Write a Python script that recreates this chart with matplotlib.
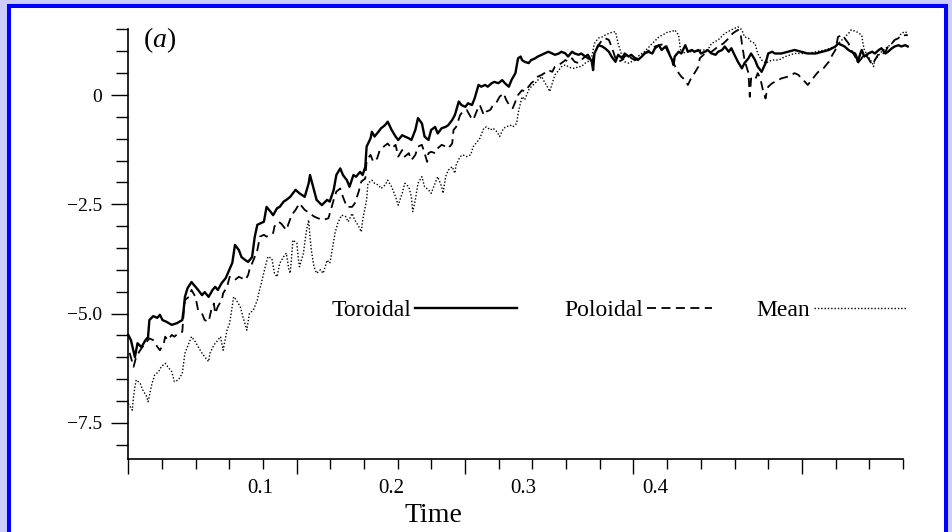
import numpy as np
import matplotlib
matplotlib.use("Agg")
import matplotlib.pyplot as plt
from matplotlib.patches import Rectangle

plt.rcParams['font.family'] = ['Liberation Serif', 'DejaVu Serif']
plt.rcParams['mathtext.fontset'] = 'custom'
plt.rcParams['mathtext.rm'] = 'Liberation Serif'
plt.rcParams['mathtext.it'] = 'Liberation Serif:italic'

# (time, value) readings
toroidal = [
    (0.000, -5.49), (0.002, -5.61), (0.005, -6.00), (0.007, -5.68), (0.010, -5.77), (0.013, -5.61),
    (0.015, -5.54), (0.016, -5.15), (0.019, -5.06), (0.022, -5.10), (0.024, -5.03), (0.026, -5.15),
    (0.029, -5.19), (0.033, -5.26), (0.037, -5.22), (0.041, -5.15), (0.042, -4.92), (0.043, -4.62),
    (0.045, -4.42), (0.048, -4.28), (0.051, -4.39), (0.053, -4.46), (0.056, -4.58), (0.058, -4.51),
    (0.061, -4.62), (0.064, -4.46), (0.066, -4.39), (0.068, -4.46), (0.071, -4.30), (0.074, -4.19),
    (0.076, -4.05), (0.079, -3.84), (0.081, -3.43), (0.084, -3.55), (0.086, -3.71), (0.089, -3.78),
    (0.091, -3.82), (0.094, -3.71), (0.096, -3.25), (0.098, -2.97), (0.103, -2.90), (0.105, -2.56),
    (0.108, -2.67), (0.110, -2.75), (0.113, -2.59), (0.115, -2.56), (0.118, -2.44), (0.120, -2.40),
    (0.123, -2.33), (0.127, -2.17), (0.130, -2.25), (0.134, -2.33), (0.137, -2.02), (0.138, -1.83),
    (0.141, -2.17), (0.143, -2.40), (0.147, -2.52), (0.151, -2.40), (0.153, -2.44), (0.156, -2.17),
    (0.158, -1.83), (0.161, -1.68), (0.163, -1.83), (0.166, -1.95), (0.168, -2.10), (0.171, -1.83),
    (0.173, -1.87), (0.176, -1.76), (0.178, -1.83), (0.180, -1.64), (0.181, -1.18), (0.184, -0.99),
    (0.185, -0.84), (0.187, -0.95), (0.190, -0.84), (0.192, -0.76), (0.195, -0.69), (0.197, -0.61),
    (0.200, -0.80), (0.203, -0.95), (0.205, -1.03), (0.208, -0.92), (0.210, -0.95), (0.213, -0.99),
    (0.215, -1.03), (0.218, -0.80), (0.220, -0.53), (0.223, -0.65), (0.225, -0.95), (0.228, -1.03),
    (0.230, -0.80), (0.233, -0.73), (0.235, -0.88), (0.238, -0.76), (0.241, -0.73), (0.243, -0.69),
    (0.246, -0.57), (0.248, -0.46), (0.251, -0.15), (0.253, -0.23), (0.256, -0.27), (0.258, -0.19),
    (0.261, -0.23), (0.263, -0.08), (0.266, 0.23), (0.268, 0.19), (0.271, 0.23), (0.273, 0.19),
    (0.276, 0.27), (0.278, 0.30), (0.281, 0.27), (0.284, 0.34), (0.286, 0.27), (0.289, 0.19),
    (0.291, 0.34), (0.294, 0.50), (0.296, 0.84), (0.298, 0.88), (0.299, 0.80), (0.301, 0.76),
    (0.304, 0.73), (0.306, 0.80), (0.309, 0.84), (0.311, 0.88), (0.314, 0.92), (0.316, 0.95),
    (0.319, 0.99), (0.322, 0.95), (0.324, 0.92), (0.327, 0.95), (0.329, 0.99), (0.332, 0.95),
    (0.334, 0.88), (0.337, 0.99), (0.339, 0.95), (0.342, 0.92), (0.344, 0.95), (0.347, 0.88),
    (0.349, 0.92), (0.352, 0.76), (0.353, 0.57), (0.354, 0.95), (0.357, 1.14), (0.360, 1.11),
    (0.362, 1.07), (0.365, 0.99), (0.367, 0.88), (0.370, 0.76), (0.372, 0.92), (0.375, 0.84),
    (0.377, 0.95), (0.380, 0.88), (0.382, 0.92), (0.385, 0.84), (0.387, 0.80), (0.390, 0.88),
    (0.392, 0.95), (0.395, 0.99), (0.398, 0.95), (0.400, 1.07), (0.403, 1.14), (0.405, 1.03),
    (0.408, 1.11), (0.410, 0.99), (0.413, 0.80), (0.414, 0.69), (0.415, 0.88), (0.418, 0.99),
    (0.420, 0.95), (0.423, 1.14), (0.425, 0.99), (0.428, 1.03), (0.430, 0.99), (0.433, 1.03),
    (0.435, 0.95), (0.438, 0.99), (0.440, 1.03), (0.443, 0.95), (0.446, 0.92), (0.448, 0.99),
    (0.451, 1.03), (0.453, 1.11), (0.456, 0.99), (0.458, 1.07), (0.461, 0.88), (0.463, 0.76),
    (0.466, 0.61), (0.468, 0.73), (0.471, 0.84), (0.473, 0.95), (0.476, 0.80), (0.478, 0.65),
    (0.481, 0.53), (0.484, 0.73), (0.486, 0.95), (0.489, 0.99), (0.491, 0.95), (0.496, 0.95),
    (0.501, 0.99), (0.506, 1.03), (0.511, 0.99), (0.516, 0.95), (0.522, 0.95), (0.527, 0.99),
    (0.532, 1.03), (0.537, 1.11), (0.539, 1.18), (0.542, 1.14), (0.544, 1.11), (0.547, 1.03),
    (0.549, 0.99), (0.552, 0.95), (0.553, 0.88), (0.554, 0.76), (0.556, 0.95), (0.557, 1.03),
    (0.559, 0.88), (0.562, 0.95), (0.565, 0.99), (0.567, 0.95), (0.570, 1.03), (0.572, 1.07),
    (0.575, 0.95), (0.577, 0.99), (0.580, 1.07), (0.582, 1.11), (0.585, 1.14), (0.587, 1.11),
    (0.590, 1.14), (0.592, 1.11),
]

poloidal = [
    (0.001, -5.90), (0.004, -6.22), (0.006, -5.99), (0.009, -5.84), (0.011, -5.76), (0.016, -5.57),
    (0.019, -5.61), (0.022, -5.76), (0.024, -5.84), (0.027, -5.68), (0.028, -5.53), (0.030, -5.61),
    (0.033, -5.49), (0.035, -5.53), (0.038, -5.45), (0.041, -5.42), (0.042, -5.00), (0.043, -4.69),
    (0.046, -4.62), (0.048, -4.46), (0.051, -4.62), (0.052, -4.77), (0.053, -4.92), (0.056, -5.00),
    (0.058, -5.15), (0.061, -5.19), (0.063, -4.92), (0.065, -4.77), (0.066, -5.00), (0.068, -4.84),
    (0.071, -4.69), (0.072, -4.54), (0.075, -4.39), (0.077, -4.16), (0.079, -4.19), (0.081, -4.23),
    (0.084, -4.16), (0.086, -4.19), (0.089, -4.23), (0.091, -4.12), (0.092, -4.00), (0.095, -3.78),
    (0.098, -3.55), (0.100, -3.24), (0.103, -3.20), (0.105, -3.24), (0.108, -3.20), (0.110, -3.16),
    (0.111, -3.01), (0.114, -2.90), (0.116, -2.94), (0.119, -3.05), (0.120, -3.09), (0.124, -2.75),
    (0.127, -2.63), (0.130, -2.48), (0.134, -2.63), (0.138, -2.71), (0.141, -2.78), (0.144, -2.82),
    (0.148, -2.86), (0.152, -2.82), (0.156, -2.40), (0.158, -2.21), (0.161, -2.14), (0.163, -2.33),
    (0.166, -2.56), (0.170, -2.56), (0.172, -2.48), (0.175, -2.21), (0.177, -1.98), (0.180, -1.91),
    (0.181, -1.49), (0.184, -1.37), (0.186, -1.53), (0.189, -1.45), (0.191, -1.26), (0.194, -1.18),
    (0.197, -1.11), (0.200, -1.22), (0.203, -1.14), (0.205, -1.41), (0.208, -1.26), (0.210, -1.41),
    (0.213, -1.33), (0.215, -1.49), (0.218, -1.37), (0.220, -1.18), (0.223, -1.14), (0.225, -1.33),
    (0.227, -1.53), (0.228, -1.33), (0.230, -1.30), (0.233, -1.33), (0.235, -1.22), (0.238, -1.14),
    (0.241, -1.18), (0.243, -1.22), (0.246, -1.11), (0.247, -0.80), (0.249, -0.73), (0.252, -0.46),
    (0.254, -0.38), (0.257, -0.34), (0.260, -0.50), (0.262, -0.57), (0.265, -0.34), (0.267, -0.23),
    (0.270, -0.46), (0.272, -0.38), (0.275, -0.34), (0.277, -0.23), (0.280, -0.15), (0.282, -0.04),
    (0.285, 0.04), (0.287, -0.11), (0.290, -0.27), (0.292, -0.30), (0.295, -0.08), (0.296, 0.00),
    (0.299, 0.11), (0.301, 0.08), (0.304, 0.19), (0.306, 0.27), (0.309, 0.34), (0.311, 0.42),
    (0.314, 0.46), (0.316, 0.50), (0.319, 0.57), (0.322, 0.53), (0.324, 0.65), (0.327, 0.69),
    (0.329, 0.73), (0.332, 0.80), (0.334, 0.76), (0.337, 0.84), (0.339, 0.76), (0.342, 0.73),
    (0.344, 0.80), (0.347, 0.88), (0.349, 0.84), (0.352, 0.73), (0.354, 0.95), (0.357, 1.14),
    (0.360, 1.26), (0.362, 1.30), (0.365, 1.26), (0.367, 1.11), (0.370, 0.84), (0.372, 0.76),
    (0.375, 0.80), (0.377, 0.88), (0.380, 0.92), (0.382, 0.84), (0.385, 0.80), (0.387, 0.84),
    (0.390, 0.88), (0.392, 0.95), (0.400, 1.11), (0.408, 1.18), (0.411, 0.95), (0.414, 0.73),
    (0.418, 0.50), (0.420, 0.42), (0.423, 0.34), (0.425, 0.23), (0.428, 0.42), (0.430, 0.50),
    (0.433, 0.65), (0.434, 0.84), (0.438, 0.95), (0.443, 0.99), (0.448, 1.11), (0.452, 1.18),
    (0.456, 1.30), (0.459, 1.41), (0.463, 1.49), (0.465, 1.41), (0.466, 1.18), (0.468, 0.80),
    (0.471, 0.50), (0.472, -0.04), (0.473, 0.38), (0.476, 0.34), (0.478, 0.50), (0.480, 0.38),
    (0.482, 0.11), (0.484, -0.08), (0.485, 0.11), (0.486, 0.19), (0.489, 0.27), (0.491, 0.30),
    (0.496, 0.38), (0.501, 0.42), (0.506, 0.50), (0.509, 0.46), (0.511, 0.38), (0.514, 0.30),
    (0.516, 0.23), (0.519, 0.34), (0.522, 0.46), (0.524, 0.53), (0.527, 0.57), (0.529, 0.65),
    (0.532, 0.76), (0.534, 0.88), (0.537, 1.03), (0.539, 1.33), (0.542, 1.37), (0.544, 1.30),
    (0.547, 1.18), (0.549, 1.03), (0.552, 0.88), (0.554, 0.73), (0.557, 0.84), (0.559, 0.95),
    (0.562, 0.84), (0.565, 0.69), (0.567, 0.80), (0.570, 0.95), (0.572, 0.92), (0.575, 0.99),
    (0.577, 1.11), (0.580, 1.18), (0.582, 1.26), (0.585, 1.30), (0.587, 1.33), (0.590, 1.37),
    (0.592, 1.37),
]

mean = [
    (0.000, -7.06), (0.003, -7.21), (0.004, -6.90), (0.005, -6.68), (0.006, -6.52), (0.009, -6.60),
    (0.011, -6.75), (0.014, -6.90), (0.015, -7.02), (0.018, -6.60), (0.020, -6.41), (0.023, -6.33),
    (0.025, -6.22), (0.028, -6.14), (0.030, -6.22), (0.033, -6.33), (0.035, -6.56), (0.038, -6.52),
    (0.041, -6.37), (0.042, -6.14), (0.043, -5.91), (0.046, -5.68), (0.048, -5.53), (0.051, -5.65),
    (0.053, -5.76), (0.056, -5.91), (0.058, -5.99), (0.061, -6.10), (0.062, -5.91), (0.065, -5.72),
    (0.067, -5.65), (0.070, -5.53), (0.072, -5.84), (0.075, -5.38), (0.077, -5.22), (0.080, -4.62),
    (0.082, -4.69), (0.085, -4.84), (0.087, -5.07), (0.090, -5.38), (0.092, -5.00), (0.095, -4.92),
    (0.098, -4.69), (0.099, -4.54), (0.101, -4.31), (0.104, -3.93), (0.106, -3.70), (0.109, -3.74),
    (0.111, -4.08), (0.113, -4.16), (0.115, -3.85), (0.118, -3.70), (0.120, -3.62), (0.122, -4.00),
    (0.123, -4.08), (0.125, -3.32), (0.128, -3.39), (0.129, -3.70), (0.130, -3.93), (0.133, -3.62),
    (0.135, -3.16), (0.137, -2.86), (0.138, -3.24), (0.139, -3.55), (0.141, -3.93), (0.143, -4.08),
    (0.146, -4.00), (0.148, -4.08), (0.151, -3.78), (0.153, -3.85), (0.154, -3.70), (0.157, -3.16),
    (0.159, -2.94), (0.162, -2.75), (0.165, -2.78), (0.167, -2.90), (0.170, -2.71), (0.172, -2.86),
    (0.175, -3.01), (0.177, -3.13), (0.178, -2.86), (0.181, -2.40), (0.182, -2.02), (0.185, -1.95),
    (0.187, -2.02), (0.190, -2.06), (0.192, -2.14), (0.195, -2.06), (0.197, -1.95), (0.200, -2.10),
    (0.203, -2.33), (0.205, -2.52), (0.208, -2.25), (0.210, -2.02), (0.213, -2.10), (0.215, -2.33),
    (0.216, -2.67), (0.218, -2.40), (0.220, -2.02), (0.223, -1.87), (0.225, -2.10), (0.228, -2.17),
    (0.230, -2.25), (0.233, -2.02), (0.235, -1.87), (0.238, -2.10), (0.239, -2.25), (0.241, -1.87),
    (0.243, -1.72), (0.246, -1.64), (0.248, -1.79), (0.249, -1.60), (0.252, -1.41), (0.254, -1.37),
    (0.257, -1.41), (0.260, -1.37), (0.262, -1.18), (0.265, -1.07), (0.267, -0.99), (0.270, -0.76),
    (0.272, -0.73), (0.275, -0.80), (0.277, -0.76), (0.280, -0.84), (0.282, -0.95), (0.285, -0.76),
    (0.287, -0.73), (0.290, -0.69), (0.292, -0.73), (0.295, -0.65), (0.296, -0.42), (0.299, -0.04),
    (0.301, -0.11), (0.304, 0.11), (0.306, 0.19), (0.309, 0.27), (0.311, 0.34), (0.314, 0.42),
    (0.316, 0.30), (0.319, 0.15), (0.320, 0.08), (0.322, 0.27), (0.324, 0.46), (0.327, 0.57),
    (0.329, 0.65), (0.332, 0.69), (0.334, 0.65), (0.337, 0.61), (0.339, 0.61), (0.342, 0.65),
    (0.344, 0.65), (0.347, 0.73), (0.349, 0.76), (0.352, 0.88), (0.354, 1.18), (0.357, 1.30),
    (0.360, 1.33), (0.362, 1.37), (0.365, 1.41), (0.367, 1.43), (0.370, 1.45), (0.372, 1.18),
    (0.375, 0.88), (0.377, 0.76), (0.380, 0.73), (0.382, 0.76), (0.385, 0.80), (0.387, 0.88),
    (0.390, 0.95), (0.392, 0.99), (0.398, 1.18), (0.403, 1.33), (0.408, 1.41), (0.410, 1.45),
    (0.413, 1.45), (0.415, 1.49), (0.418, 1.37), (0.419, 1.11), (0.420, 0.95), (0.425, 0.99),
    (0.430, 0.99), (0.435, 1.03), (0.440, 1.03), (0.443, 1.18), (0.448, 1.26), (0.453, 1.41),
    (0.458, 1.49), (0.463, 1.56), (0.466, 1.49), (0.468, 1.33), (0.471, 1.30), (0.473, 1.22),
    (0.476, 1.18), (0.478, 0.95), (0.481, 0.80), (0.484, 0.73), (0.489, 0.80), (0.494, 0.80),
    (0.499, 0.88), (0.506, 0.95), (0.516, 0.95), (0.529, 1.03), (0.537, 1.11), (0.542, 1.26),
    (0.547, 1.41), (0.549, 1.49), (0.553, 1.45), (0.557, 1.37), (0.558, 1.18), (0.559, 1.03),
    (0.562, 0.88), (0.565, 0.73), (0.566, 0.65), (0.567, 0.80), (0.572, 0.99), (0.577, 1.11),
    (0.580, 1.18), (0.582, 1.26), (0.585, 1.30), (0.587, 1.41), (0.590, 1.45), (0.592, 1.41),
]

series_names = ["Toroidal", "Poloidal", "Mean"]
x_tick_values = [0.1, 0.2, 0.3, 0.4]
x_tick_labels = ["0.1", "0.2", "0.3", "0.4"]
y_tick_values = [-7.5, -5.0, -2.5, 0.0]
y_tick_labels = ["\u22127.5", "\u22125.0", "\u22122.5", "0"]

W, H = 953, 532
fig = plt.figure(figsize=(W / 100, H / 100), dpi=100, facecolor="#ccccff")

# white page with the blue frame round it (behind the axes)
fig.add_artist(Rectangle((9 / W, -0.05), (946 - 9) / W, 1 - 6 / H + 0.05,
                         transform=fig.transFigure, facecolor="white",
                         edgecolor="#0000ff", linewidth=2.9, zorder=-10))

# pixel scale of the scan: 1316.7 px per time unit, 43.7 px per y unit
ax = fig.add_axes([128.3 / W, 1 - 459 / H, (910 - 128.3) / W, (459 - 29) / H])
ax.set_facecolor("none")
ax.set_xlim(0, (910 - 128.3) / 1316.7)
ax.set_ylim(-(459 - 95) / 43.7, (95 - 29) / 43.7)

styles = [dict(lw=1.7), dict(lw=1.3, dashes=(5, 3)), dict(lw=1.0, dashes=(1, 1.4))]
lines = []
for data, name, st in zip([toroidal, poloidal, mean], series_names, styles):
    t, v = zip(*data)
    ln, = ax.plot(t, v, color="black", label=name, clip_on=False, **st)
    lines.append(ln)

# text-then-line key, three separate pieces
key = zip(lines, series_names, [0.2603, 0.5583, 0.8035], [4.3, 2.75, 3.9])
for i, (ln, name, x0, hl) in enumerate(key):
    leg = ax.legend([ln], [name], loc="center left", bbox_to_anchor=(x0, 0.3465),
                    frameon=False, markerfirst=False, handlelength=hl,
                    handletextpad=0.15, borderpad=0, borderaxespad=0, fontsize=17)
    if i < 2:
        ax.add_artist(leg)

for side in ["top", "right"]:
    ax.spines[side].set_visible(False)
for side in ["left", "bottom"]:
    ax.spines[side].set_linewidth(1.2)

step = 33.68 / 1316.7
xt = np.arange(24) * step
ax.set_xticks(xt[::5])
ax.set_xticks([x for i, x in enumerate(xt) if i % 5], minor=True)
ax.set_xticklabels([])
ax.spines["bottom"].set_bounds(0, xt[-1])
ax.tick_params(axis="x", which="major", length=10.8, width=1.0, direction="out")
ax.tick_params(axis="x", which="minor", length=7.2, width=1.0, direction="out")

sec = ax.secondary_xaxis("bottom")
sec.set_xticks(x_tick_values, labels=x_tick_labels)
sec.tick_params(length=0, pad=14.5, labelsize=15)
sec.spines["bottom"].set_visible(False)

ax.set_yticks(y_tick_values, labels=y_tick_labels)
ax.set_yticks([y for y in np.arange(-8.0, 1.6, 0.5) if y not in y_tick_values], minor=True)
ax.tick_params(axis="y", which="major", length=12, width=1.0, pad=7, labelsize=14)
ax.tick_params(axis="y", which="minor", length=8.6, width=1.0)

ax.set_xlabel("Time", fontsize=20, va="center")
ax.xaxis.set_label_coords(0.39, -0.132)

ax.text(0.0189, 0.974, r"$(a)$", transform=ax.transAxes, fontsize=20,
        ha="left", va="center")

fig.savefig("out.png", dpi=100, facecolor=fig.get_facecolor())
